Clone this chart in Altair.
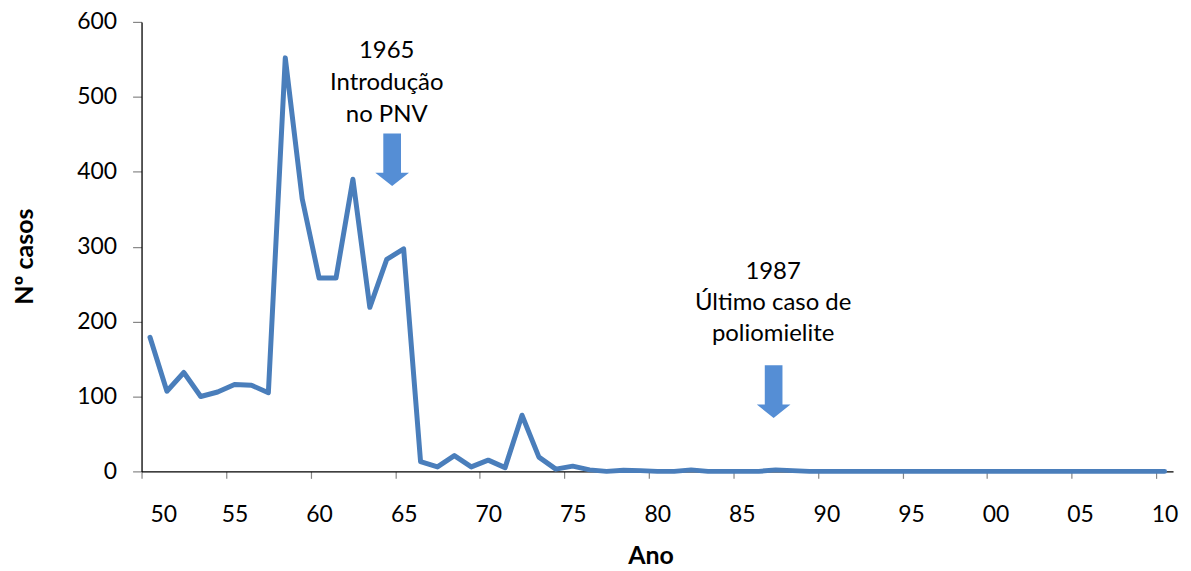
import altair as alt
import pandas as pd

# --- data ---
years = list(range(1950, 2011))
cases = [179, 107, 132, 100, 106, 116, 115, 105, 552, 364,
         258, 258, 390, 219, 283, 297, 13, 6, 21, 6,
         15, 5, 75, 19, 3, 7, 2, 0, 1.5, 1,
         0, 0, 2, 0, 0, 0, 0, 2, 1, 0,
         0, 0, 0, 0, 0, 0, 0, 0, 0, 0,
         0, 0, 0, 0, 0, 0, 0, 0, 0, 0,
         0]

tick_years = list(range(1950, 2011, 5))
y_ticks = [0, 100, 200, 300, 400, 500, 600]

# annotations: text lines (x in years, y in cases at text baseline)
ann_text = ["1965", "Introdução", "no PNV", "1987", "Último caso de", "poliomielite"]
ann_x = [1964.5, 1964.5, 1964.5, 1987.35, 1987.35, 1987.35]
ann_y = [551.5, 508.5, 466.5, 257.0, 215.0, 174.5]

# arrows (centre position in data units)
arrow_x = [1964.82, 1987.38]
arrow_y = [416.0, 106.5]

FONT = "Lato"
LINE_COLOR = "#4a7ebb"
ARROW_COLOR = "#558ed5"

df = pd.DataFrame({"x": [y + 0.5 for y in years], "y": cases})
df_ann = pd.DataFrame({"x": ann_x, "y": ann_y, "t": ann_text})
df_arr = pd.DataFrame({"x": arrow_x, "y": arrow_y})

xscale = alt.Scale(domain=[1950, 2011], nice=False, zero=False)
yscale = alt.Scale(domain=[0, 600], nice=False)

x_axis = alt.Axis(
    values=tick_years,
    labelExpr="(datum.value % 100) < 10 ? '0' + (datum.value % 100) : '' + (datum.value % 100)",
    labelOffset=8.5,
    labelFont=FONT, labelFontSize=23, labelColor="#000000",
    labelBaseline="alphabetic", labelPadding=43,
    tickSize=7, tickColor="#868686", tickWidth=1.2,
    domainColor="#000000", domainWidth=1.3,
    grid=False,
    title="Ano", titleFont=FONT, titleFontSize=25, titleFontWeight="bold",
    titleColor="#000000", titleX=510.7, titleY=92.8,
    titleBaseline="alphabetic", titleAlign="center",
    labelOverlap=False,
)
y_axis = alt.Axis(
    values=y_ticks,
    labelFont=FONT, labelFontSize=23, labelColor="#000000",
    labelPadding=16,
    tickSize=9, tickColor="#868686", tickWidth=1.2,
    domainColor="#000000", domainWidth=1.3,
    grid=False,
    title="Nº casos", titleFont=FONT, titleFontSize=25, titleFontWeight="bold",
    titleColor="#000000", titleAngle=-90, titleX=-109, titleY=235,
    titleBaseline="alphabetic", titleAlign="center",
)

line = alt.Chart(df).mark_line(
    color=LINE_COLOR, strokeWidth=5, strokeJoin="round", strokeCap="round"
).encode(
    x=alt.X("x:Q", scale=xscale, axis=x_axis),
    y=alt.Y("y:Q", scale=yscale, axis=y_axis),
)

arrow_path = "M -0.336 -1 L 0.336 -1 L 0.336 0.49 L 0.64 0.49 L 0 1 L -0.64 0.49 L -0.336 0.49 Z"
arrows = alt.Chart(df_arr).mark_point(
    shape=arrow_path, size=2790, filled=True, fill=ARROW_COLOR, opacity=1, strokeWidth=0
).encode(
    x=alt.X("x:Q", scale=xscale),
    y=alt.Y("y:Q", scale=yscale),
)

texts = alt.Chart(df_ann).mark_text(
    font=FONT, fontSize=24, color="#000000", align="center", baseline="alphabetic"
).encode(
    x=alt.X("x:Q", scale=xscale),
    y=alt.Y("y:Q", scale=yscale),
    text="t:N",
)

chart = alt.layer(line, arrows, texts).properties(
    width=1035, height=451,
    autosize=alt.AutoSizeParams(type="none"),
    padding={"left": 134, "top": 13, "right": 10, "bottom": 99},
).configure_view(stroke=None)

chart.save("out.html", embed_options={"renderer": "svg", "actions": False})
